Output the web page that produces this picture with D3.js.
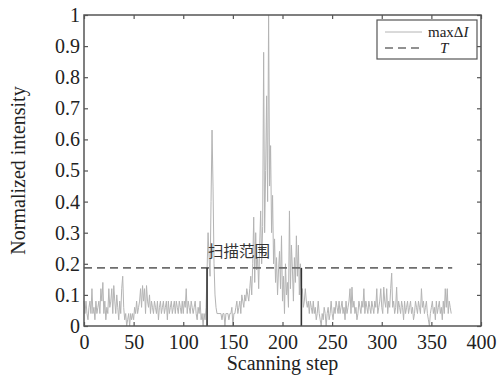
<!DOCTYPE html>
<html>
<head>
<meta charset="utf-8">
<script src="https://cdn.jsdelivr.net/npm/d3@7"></script>
<style>
  html, body { margin: 0; padding: 0; background: #fff; }
  svg { display: block; }
</style>
</head>
<body>
<div id="chart"></div>
<script>
// Normalized max intensity per scanning step (index = step)
const baseBefore = [
  .08, .04, .08, .04, .02, .06, .08, .04, .12, .04,
  .06, .02, .08, .04, .06, .08, .04, .12, .08, .14,
  .04, .08, .02, .06, .04, .12, .06, .08, .12, .04,
  .13, .08, .04, .10, .06, .02, .08, .04, .12, .16,
  .06, .02, .04, 0, .02, .04, 0, .04, .02, .04,
  .02, .06, .04, .08, .04, .06, .08, .12, .06, .13,
  .08, .12, .04, .13, .08, .06, .10, .04, .08, .06,
  .04, .08, .06, .04, .08, .02, .06, .08, .04, .06,
  .08, .04, .06, .08, .02, .08, .04, .06, .08, .04,
  .06, .08, .04, .08, .06, .04, .08, .06, .04, .08,
  .04, .08, .06, .12, .04, .08, .06, .04, .08, .06,
  .04, .06, .08, .04, .02, .06, .04, .08, .02, .04,
  0, .04, .02, .06
]
const firstPeak = [.18, .30, .22, .16, .40, .63, .45, .20, .10, .06, .04, .04]
const valley = [
  .04, .04, .04, .02, .04, .04, 0, .04, .04, .04,
  .02, .04, .04, .06, 0, .04, .04, .06, .08, .04,
  .06, .08, .04, .10, .08, .06, .10, .08, .12, .10
]
const mainPeak = [
  .08, .12, .16, .10, .20, .35, .14, .30, .18, .22,
  .12, .26, .37, .20, .32, .88, .30, .50, .74, .40,
  1.0, .45, .58, .30, .42, .20, .28, .14, .22, .10,
  .18, .24, .12, .29, .08, .16, .04, .20, .10, .14,
  .06, .37, .12, .26, .18, .08, .22, .14, .29, .16,
  .26, .10, .20
]
const baseAfter = [
  .10, .12, .06, .08, .12, .08, .06, .08, .04, .08,
  .06, .04, .08, .04, .06, .02, .04, .08, .04, .02,
  0, .04, .02, .06, .04, 0, .04, .06, .02, .04,
  .08, .04, .02, .06, .04, .08, .06, .04, .08, .04,
  .06, .08, .04, .06, .02, .08, .04, .06, .08, .12,
  .04, .125, .06, .08, .04, .06, .02, .04, .08, .06,
  .04, .08, .06, .12, .04, .08, .06, .04, .08, .06,
  .04, .08, .06, .04, .08, .06, .12, .04, .06, .08,
  .12, .06, .04, .125, .08, .06, .12, .04, .08, .06,
  .12, .17, .06, .08, .04, .06, .125, .04, .08, .06,
  .04, .08, .06, .02, .08, .04, .06, .08, .04, .06,
  .08, .04, .06, .02, .04, .08, .06, .04, .08, .06,
  .04, .12, .06, .08, .04, .06, .08, .04, .02, 0,
  .04, .06, .08, .04, .06, .02, .08, .04, .06, .08,
  .04, .06, .02, .08, .04, .12, .06, .12, .04, .08,
  .06, .04
]
const intensity = [].concat(baseBefore, firstPeak, valley, mainPeak, baseAfter)

const threshold = 0.187
const scanRange = [124, 219]
const thresholdEnd = 371
const xTicks = [0, 50, 100, 150, 200, 250, 300, 350, 400]
const yTicks = [0, 0.1, 0.2, 0.3, 0.4, 0.5, 0.6, 0.7, 0.8, 0.9, 1]

const W = 502, H = 380
const margin = { top: 15, right: 21, bottom: 54, left: 84 }
const serif = '"Liberation Serif", "Times New Roman", serif'

const svg = d3.select('#chart')
  .append('svg')
  .attr('width', W)
  .attr('height', H)

const x = d3.scaleLinear().domain([0, 400]).range([margin.left, W - margin.right])
const y = d3.scaleLinear().domain([0, 1]).range([H - margin.bottom, margin.top])

const axisColor = '#555'

// Data line
const line = d3.line()
  .x((d, i) => x(i))
  .y(d => y(d))

svg.append('path')
  .datum(intensity)
  .attr('d', line)
  .attr('fill', 'none')
  .attr('stroke', '#b4b4b4')
  .attr('stroke-width', 1)

// Threshold line
svg.append('line')
  .attr('x1', x(0)).attr('x2', x(thresholdEnd))
  .attr('y1', y(threshold)).attr('y2', y(threshold))
  .attr('stroke', '#6e6e6e')
  .attr('stroke-width', 1.6)
  .attr('stroke-dasharray', '8,5')

// Scanning range markers
svg.selectAll('.range')
  .data(scanRange)
  .join('line')
  .attr('class', 'range')
  .attr('x1', d => x(d)).attr('x2', d => x(d))
  .attr('y1', y(0)).attr('y2', y(threshold))
  .attr('stroke', '#333')
  .attr('stroke-width', 1.6)

svg.append('text')
  .attr('x', x(scanRange[0]) + 1)
  .attr('y', y(threshold) - 11)
  .attr('font-family', '"Noto Sans CJK SC", sans-serif')
  .attr('font-size', '15.5px')
  .attr('fill', '#333')
  .text('扫描范围')

// Axes (box with inward ticks)
function styleAxis(g) {
  g.select('.domain').remove()
  g.selectAll('.tick line').attr('stroke', axisColor).attr('stroke-width', 1.2)
  g.selectAll('.tick text')
    .attr('font-family', serif)
    .attr('font-size', '20px')
    .attr('fill', '#222')
}

const fmt = d3.format('~g')

svg.append('g')
  .attr('transform', `translate(0,${y(0)})`)
  .call(d3.axisBottom(x).tickValues(xTicks).tickFormat(fmt).tickSize(-4).tickPadding(6))
  .call(styleAxis)
  .selectAll('.tick text').attr('dy', '0.85em')

svg.append('g')
  .attr('transform', `translate(0,${y(1)})`)
  .call(d3.axisTop(x).tickValues(xTicks).tickFormat('').tickSize(-4))
  .call(styleAxis)

svg.append('g')
  .attr('transform', `translate(${x(0)},0)`)
  .call(d3.axisLeft(y).tickValues(yTicks).tickFormat(fmt).tickSize(-4).tickPadding(4))
  .call(styleAxis)

svg.append('g')
  .attr('transform', `translate(${x(400)},0)`)
  .call(d3.axisRight(y).tickValues(yTicks).tickFormat('').tickSize(-4))
  .call(styleAxis)

svg.append('rect')
  .attr('x', x(0)).attr('y', y(1))
  .attr('width', x(400) - x(0))
  .attr('height', y(0) - y(1))
  .attr('fill', 'none')
  .attr('stroke', axisColor)
  .attr('stroke-width', 1.5)

// Axis titles
svg.append('text')
  .attr('x', (x(0) + x(400)) / 2)
  .attr('y', 370)
  .attr('text-anchor', 'middle')
  .attr('font-family', serif)
  .attr('font-size', '20px')
  .attr('fill', '#222')
  .text('Scanning step')

svg.append('text')
  .attr('transform', `translate(25,${(y(0) + y(1)) / 2}) rotate(-90)`)
  .attr('text-anchor', 'middle')
  .attr('font-family', serif)
  .attr('font-size', '20px')
  .attr('fill', '#222')
  .text('Normalized intensity')

// Legend
const legend = svg.append('g').attr('transform', 'translate(377,20)')
legend.append('rect')
  .attr('width', 100).attr('height', 39)
  .attr('fill', '#fff')
  .attr('stroke', '#555')
  .attr('stroke-width', 1.2)

legend.append('line')
  .attr('x1', 8).attr('x2', 45).attr('y1', 12).attr('y2', 12)
  .attr('stroke', '#b4b4b4').attr('stroke-width', 1)
legend.append('line')
  .attr('x1', 8).attr('x2', 45).attr('y1', 28).attr('y2', 28)
  .attr('stroke', '#6e6e6e').attr('stroke-width', 1.6)
  .attr('stroke-dasharray', '8,5')

const t1 = legend.append('text')
  .attr('x', 51).attr('y', 17)
  .attr('font-family', serif)
  .attr('font-size', '15px')
  .attr('fill', '#222')
t1.append('tspan').text('maxΔ')
t1.append('tspan').attr('font-style', 'italic').text('I')

legend.append('text')
  .attr('x', 63).attr('y', 33)
  .attr('font-family', serif)
  .attr('font-size', '15px')
  .attr('font-style', 'italic')
  .attr('fill', '#222')
  .text('T')
</script>
</body>
</html>
